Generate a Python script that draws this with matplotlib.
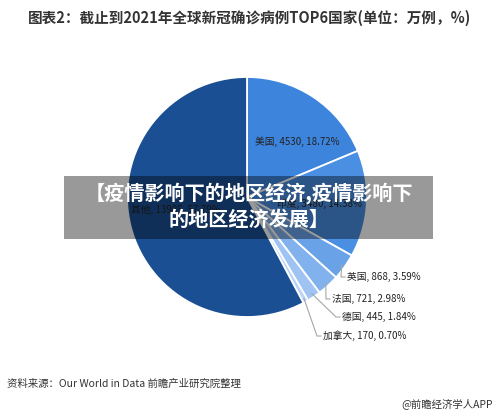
import numpy as np
import matplotlib
matplotlib.use('Agg')
import matplotlib.pyplot as plt
from matplotlib.patches import Rectangle

plt.rcParams['font.family'] = ['Noto Sans CJK SC', 'DejaVu Sans']

# data (万例, %)
countries = ['美国', '印度', '英国', '法国', '德国', '加拿大', '其他']
cases = [4530, 3480, 868, 721, 445, 170, 13985]
shares = [18.72, 14.38, 3.59, 2.98, 1.84, 0.70, 57.79]
colors = ['#3d84dd', '#4a8fe2', '#6aa2e8', '#82b2ee', '#9fc4f3', '#b9d4f6', '#1b4f93']

W, H = 500, 415
fig = plt.figure(figsize=(5, 4.15), dpi=100)
ax = fig.add_axes([0, 0, 1, 1])
ax.set_xlim(0, W)
ax.set_ylim(0, H)
ax.set_aspect('equal')
ax.axis('off')

cx, cy, r = 247, H - 197, 120
wedges, _ = ax.pie(shares, colors=colors, startangle=90, counterclock=False,
                   center=(cx, cy), radius=r, frame=True,
                   wedgeprops=dict(edgecolor='white', linewidth=1.3))
ax.set_xlim(0, W)
ax.set_ylim(0, H)
ax.axis('off')

def lab(i):
    return '%s, %d, %.2f%%' % (countries[i], cases[i], shares[i])

# labels inside big slices
ax.text(255, H - 142, lab(0), fontsize=7, color='#222222', ha='left', va='center')
ax.text(277, H - 204, lab(1), fontsize=7, color='#222222', ha='left', va='center')
ax.text(131, H - 210, lab(6), fontsize=7, color='#222222', ha='left', va='center')

# labels with leader lines for small slices
label_pos = {2: (347, 277), 3: (332, 299), 4: (342, 317), 5: (323, 336)}
for i, (tx, ty) in label_pos.items():
    w = wedges[i]
    mid = np.deg2rad((w.theta1 + w.theta2) / 2)
    ex, ey = cx + r * 0.97 * np.cos(mid), cy + r * 0.97 * np.sin(mid)
    ty = H - ty
    ax.plot([ex, tx - 6, tx - 2], [ey, ty, ty], color='#a6a6a6', lw=0.8)
    ax.text(tx, ty, lab(i), fontsize=7, color='#222222', ha='left', va='center')

# title and source
fig.text(0.5, 1 - 18 / H, '图表2：截止到2021年全球新冠确诊病例TOP6国家(单位：万例，%)',
         ha='center', va='center', fontsize=10.5, fontweight='bold', color='#333333')
fig.text(7 / W, 1 - 384 / H, '资料来源：Our World in Data 前瞻产业研究院整理',
         ha='left', va='center', fontsize=7.5, color='#333333')
fig.text(493 / W, 1 - 404 / H, '@前瞻经济学人APP',
         ha='right', va='center', fontsize=7.5, color='#333333')

# banner overlay
ax.add_patch(Rectangle((64, H - 239), 369, 63, facecolor='black', alpha=0.4,
                       edgecolor='none', zorder=5))
ax.text(249, H - 193, '【疫情影响下的地区经济,疫情影响下', ha='center', va='center',
        fontsize=14.5, fontweight='bold', color='white', zorder=6)
ax.text(249, H - 219, '的地区经济发展】', ha='center', va='center',
        fontsize=14.5, fontweight='bold', color='white', zorder=6)

fig.savefig('out.png', dpi=100, facecolor='white')
